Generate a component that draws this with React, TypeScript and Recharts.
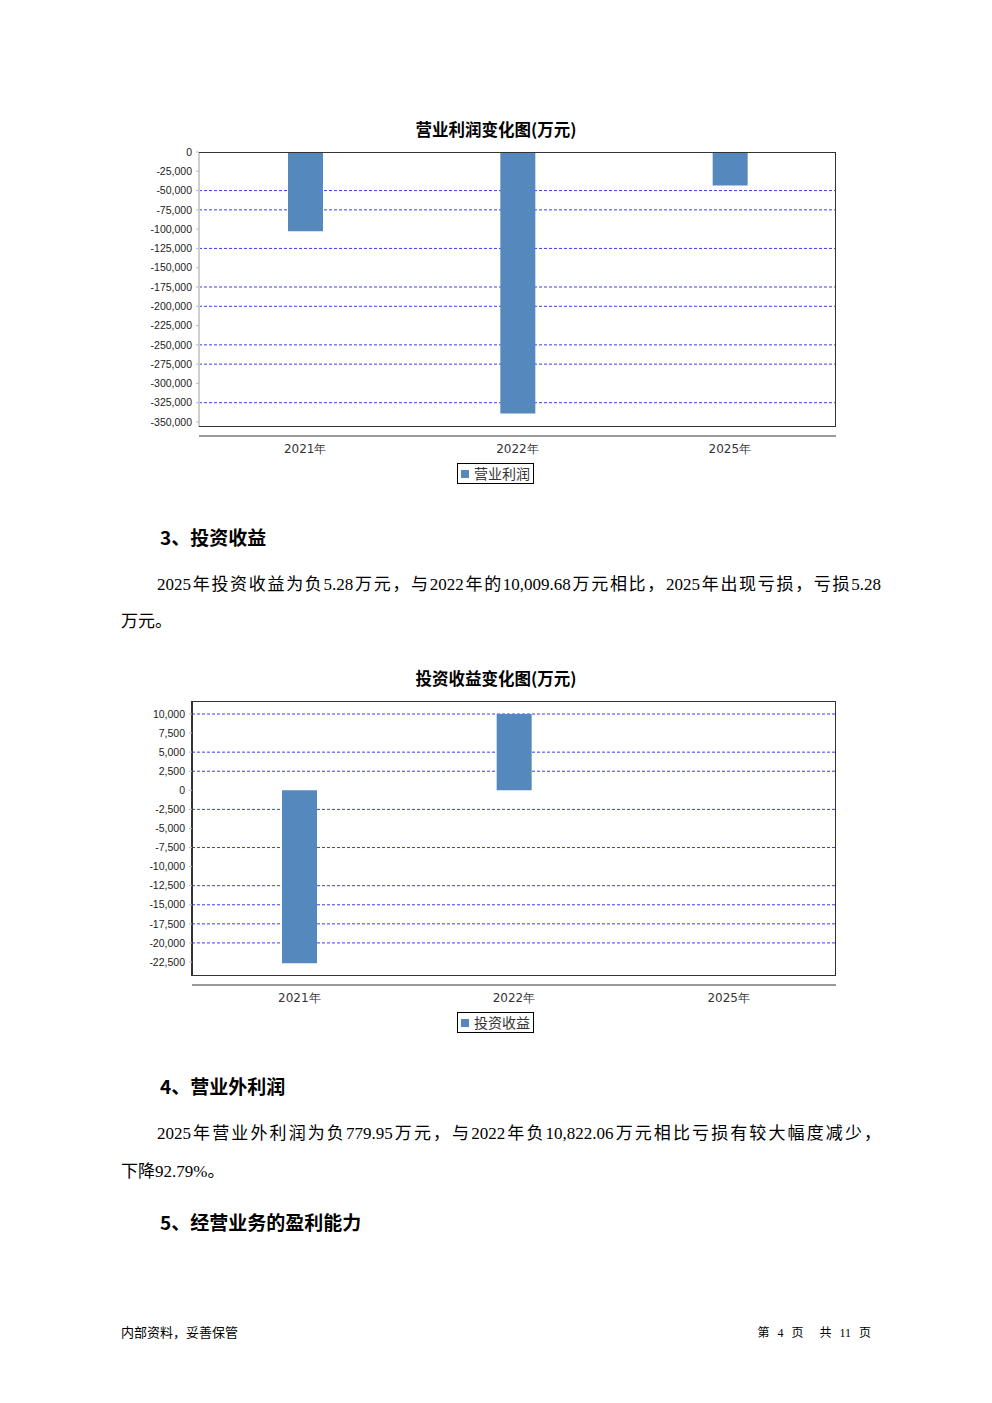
import { BarChart, Bar, XAxis, YAxis, CartesianGrid, Legend } from "recharts";

const years = ["2021年", "2022年", "2025年"];

const profitValues = [-102740, -338840, -43460];
const profitTicks = [0, -25000, -50000, -75000, -100000, -125000, -150000, -175000, -200000, -225000, -250000, -275000, -300000, -325000, -350000];
const profitGrid = [-50000, -75000, -125000, -175000, -200000, -250000, -275000, -325000];

const investValues = [-22670, 10009.68, -5.28];
const investTicks = [10000, 7500, 5000, 2500, 0, -2500, -5000, -7500, -10000, -12500, -15000, -17500, -20000, -22500];
const investGrid = [10000, 5000, 2500, -2500, -7500, -12500, -15000, -17500, -20000];

const BAR = "#5589bd";
const GRID = "#3b3bf5";
const CJK = "'Liberation Serif', 'Noto Sans CJK SC', serif";

interface ChartProps {
  top: number;
  plotLeft: number;
  title: string;
  name: string;
  values: number[];
  ticks: number[];
  grid: number[];
  domain: [number, number];
  leftColor: string;
}

const fmt = (v: number) => v.toLocaleString("en-US");

const Chart = ({ top, plotLeft, title, name, values, ticks, grid, domain, leftColor }: ChartProps) => {
  const data = years.map((y, i) => ({ year: y, value: values[i] }));
  const left = 100;
  const plotTop = top + 12;
  const plotRight = 836;
  const plotH = 275;
  return (
    <>
      <div style={{ position: "absolute", left: 0, width: 992, top: plotTop - 34, textAlign: "center", fontFamily: "'Noto Sans CJK SC', sans-serif", fontWeight: 700, fontSize: 16.5, lineHeight: "22px" }}>
        {title}
      </div>
      <div style={{ position: "absolute", left, top }}>
        <BarChart
          width={760}
          height={350}
          data={data}
          margin={{ top: 12, right: 760 - (plotRight - left), left: 0, bottom: 6 }}
          style={{ fontFamily: "'Liberation Sans', sans-serif" }}
        >
          <CartesianGrid horizontal vertical={false} horizontalValues={grid} stroke={GRID} strokeDasharray="3 2" />
          <XAxis dataKey="year" axisLine={false} tickLine={false} tickMargin={11} height={33} tick={{ fontSize: 12, fill: "#333", fontFamily: "'DejaVu Sans', sans-serif" }} />
          <YAxis
            type="number"
            domain={domain}
            ticks={ticks}
            interval={0}
            width={plotLeft - left}
            tickFormatter={fmt}
            tickSize={3}
            tickMargin={4}
            tickLine={{ stroke: "#bbb" }}
            axisLine={{ stroke: leftColor, strokeWidth: 2 }}
            tick={{ fontSize: 10.5, fill: "#222" }}
          />
          <Bar dataKey="value" name={name} fill={BAR} barSize={35} isAnimationActive={false} />
          <Legend
            verticalAlign="bottom"
            content={(props: any) => {
              const item = props.payload && props.payload[0];
              return (
                <div style={{ paddingTop: 3, paddingLeft: 357, height: 21 }}>
                  <div style={{ display: "inline-flex", alignItems: "center", border: "1px solid #000", height: 19, padding: "0 3px", background: "#fff" }}>
                    <span style={{ display: "inline-block", width: 8, height: 8, background: item ? item.color : BAR, marginRight: 5 }} />
                    <span style={{ fontSize: 14, color: "#333", fontFamily: "'Noto Sans CJK SC', sans-serif", lineHeight: "19px" }}>{item ? item.value : name}</span>
                  </div>
                </div>
              );
            }}
          />
        </BarChart>
      </div>
      {/* plot frame */}
      <div style={{ position: "absolute", left: plotLeft, top: plotTop, width: plotRight - plotLeft, height: plotH, borderTop: "1px solid #333", borderRight: "1px solid #333", borderBottom: "1px solid #333", boxSizing: "border-box", pointerEvents: "none" }} />
      {/* separate category axis line */}
      <div style={{ position: "absolute", left: plotLeft, top: plotTop + plotH + 8, width: plotRight - plotLeft, height: 2, background: "#999" }} />
    </>
  );
};

const T = ({ x, y, size, bold, children, width, justify }: any) => (
  <div
    style={{
      position: "absolute",
      left: x,
      top: y - size * 0.7,
      fontSize: size,
      lineHeight: `${size * 1.4}px`,
      fontWeight: bold ? 700 : 400,
      fontFamily: bold ? "'Noto Sans CJK SC', sans-serif" : CJK,
      whiteSpace: "nowrap",
      width,
      textAlign: justify ? "justify" : "left",
      textAlignLast: justify ? "justify" : "auto",
      color: "#000",
    }}
  >
    {children}
  </div>
);

export default function App() {
  return (
    <div style={{ position: "absolute", left: 0, top: 0, width: 992, height: 1403, background: "#fff", overflow: "hidden" }}>
      <Chart
        top={140}
        plotLeft={199}
        title="营业利润变化图(万元)"
        name="营业利润"
        values={profitValues}
        ticks={profitTicks}
        grid={profitGrid}
        domain={[-356490, 0]}
        leftColor="#cfcfcf"
      />
      <T x={160} y={537} size={19} bold>3、投资收益</T>
      <T x={157} y={585} size={17} width={724} justify>2025年投资收益为负5.28万元，与2022年的10,009.68万元相比，2025年出现亏损，亏损5.28</T>
      <T x={121} y={622} size={17}>万元。</T>
      <Chart
        top={689}
        plotLeft={192}
        title="投资收益变化图(万元)"
        name="投资收益"
        values={investValues}
        ticks={investTicks}
        grid={investGrid}
        domain={[-24335, 11704]}
        leftColor="#333"
      />
      <T x={160} y={1086} size={19} bold>4、营业外利润</T>
      <T x={157} y={1134} size={17} width={724} justify>2025年营业外利润为负779.95万元，与2022年负10,822.06万元相比亏损有较大幅度减少，</T>
      <T x={121} y={1172} size={17}>下降92.79%。</T>
      <T x={160} y={1222} size={19} bold>5、经营业务的盈利能力</T>
      <T x={121} y={1333} size={13}>内部资料，妥善保管</T>
      <div style={{ position: "absolute", right: 992 - 871, top: 1333 - 9, fontSize: 12, lineHeight: "18px", fontFamily: CJK, whiteSpace: "pre", wordSpacing: 5 }}>第 4 页  共 11 页</div>
    </div>
  );
}
